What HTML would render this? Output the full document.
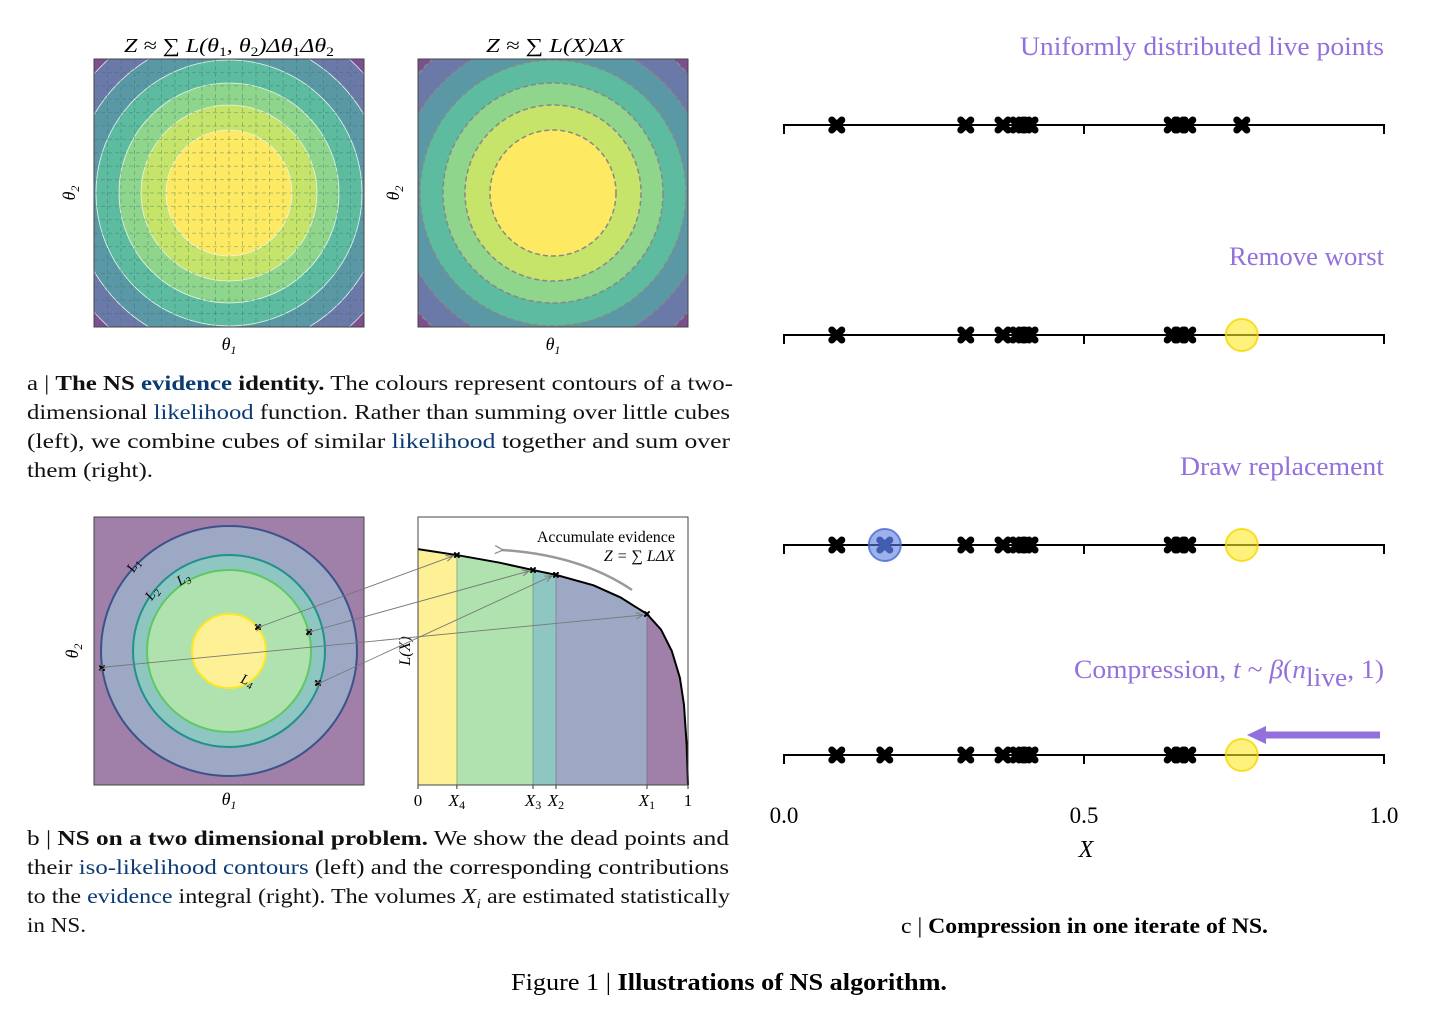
<!DOCTYPE html>
<html><head><meta charset="utf-8"><style>
html,body{margin:0;padding:0;background:#fff;width:1455px;height:1011px;overflow:hidden}
svg{display:block;font-family:"Liberation Serif",serif}
.cap{font-size:21px;fill:#111}
.lk{fill:#0b3b73}
.lab{font-size:26px;fill:#9370db}
</style></head><body>
<svg id="fig" width="1455" height="1011" viewBox="0 0 1455 1011">
<defs>
<clipPath id="c1"><rect x="94" y="59" width="270" height="268"/></clipPath>
<clipPath id="c2"><rect x="418" y="59" width="270" height="268"/></clipPath>
<clipPath id="c3"><rect x="94" y="517" width="270" height="268"/></clipPath>
<marker id="ah" markerWidth="8" markerHeight="8" refX="7" refY="4" orient="auto" markerUnits="userSpaceOnUse"><path d="M0,1 L7,4 L0,7" fill="none" stroke="#777" stroke-width="1"/></marker>
<marker id="ah2" markerWidth="10" markerHeight="10" refX="2" refY="5" orient="auto" markerUnits="userSpaceOnUse"><path d="M9,1 L1,5 L9,9" fill="none" stroke="#888" stroke-width="1.2"/></marker>
</defs>

<text x="229" y="52" font-size="20" text-anchor="middle" font-style="italic" textLength="210" lengthAdjust="spacingAndGlyphs">Z ≈ ∑ L(θ<tspan font-size="13" dy="4" font-style="normal">1</tspan><tspan dy="-4">, θ</tspan><tspan font-size="13" dy="4" font-style="normal">2</tspan><tspan dy="-4">)Δθ</tspan><tspan font-size="13" dy="4" font-style="normal">1</tspan><tspan dy="-4">Δθ</tspan><tspan font-size="13" dy="4" font-style="normal">2</tspan></text>
<text x="555" y="52" font-size="20" text-anchor="middle" font-style="italic" textLength="138" lengthAdjust="spacingAndGlyphs">Z ≈ ∑ L(X)ΔX</text>

<g id="pa1" clip-path="url(#c1)"></g>
<rect x="94" y="59" width="270" height="268" fill="none" stroke="#444" stroke-width="1"/>
<g id="pa2" clip-path="url(#c2)"></g>
<rect x="418" y="59" width="270" height="268" fill="none" stroke="#444" stroke-width="1"/>
<text x="229" y="350" font-size="18" text-anchor="middle" font-style="italic">θ<tspan font-size="12" dy="4">1</tspan></text>
<text x="553" y="350" font-size="18" text-anchor="middle" font-style="italic">θ<tspan font-size="12" dy="4">1</tspan></text>
<text transform="translate(75,193) rotate(-90)" font-size="18" text-anchor="middle" font-style="italic">θ<tspan font-size="12" dy="4">2</tspan></text>
<text transform="translate(399,193) rotate(-90)" font-size="18" text-anchor="middle" font-style="italic">θ<tspan font-size="12" dy="4">2</tspan></text>

<g>
<text class="cap" x="27" y="390" textLength="706" lengthAdjust="spacingAndGlyphs">a | <tspan font-weight="bold">The NS </tspan><tspan font-weight="bold" class="lk">evidence</tspan><tspan font-weight="bold"> identity.</tspan> The colours represent contours of a two-</text>
<text class="cap" x="27" y="419" textLength="703" lengthAdjust="spacingAndGlyphs">dimensional <tspan class="lk">likelihood</tspan> function. Rather than summing over little cubes</text>
<text class="cap" x="27" y="448" textLength="703" lengthAdjust="spacingAndGlyphs">(left), we combine cubes of similar <tspan class="lk">likelihood</tspan> together and sum over</text>
<text class="cap" x="27" y="477" textLength="126" lengthAdjust="spacingAndGlyphs">them (right).</text>
</g>

<rect x="94" y="517" width="270" height="268" fill="#a07fa8"/>
<g clip-path="url(#c3)">
<ellipse cx="229" cy="651" rx="128" ry="125" fill="#9da8c4" stroke="#3b528b" stroke-width="2"/>
<ellipse cx="229" cy="651" rx="96" ry="96" fill="#8ec6c2" stroke="#21918c" stroke-width="2"/>
<ellipse cx="229" cy="651" rx="82" ry="81" fill="#b0e2b0" stroke="#5ec962" stroke-width="2"/>
<ellipse cx="229" cy="651" rx="37" ry="37" fill="#fdf095" stroke="#fde725" stroke-width="2"/>
</g>
<rect x="94" y="517" width="270" height="268" fill="none" stroke="#444"/>
<g font-size="14" font-style="italic">
<text x="128" y="573" transform="rotate(-60 131 568)">L<tspan font-size="10" dy="3">1</tspan></text>
<text x="146" y="600" transform="rotate(-55 150 595)">L<tspan font-size="10" dy="3">2</tspan></text>
<text x="177" y="585" transform="rotate(-30 180 580)">L<tspan font-size="10" dy="3">3</tspan></text>
<text x="241" y="684" transform="rotate(20 245 680)">L<tspan font-size="10" dy="3">4</tspan></text>
</g>
<text x="229" y="805" font-size="18" text-anchor="middle" font-style="italic">θ<tspan font-size="12" dy="4">1</tspan></text>
<text transform="translate(78,651) rotate(-90)" font-size="18" text-anchor="middle" font-style="italic">θ<tspan font-size="12" dy="4">2</tspan></text>

<g id="pb2"></g>
<rect x="418" y="517" width="270" height="268" fill="none" stroke="#444"/>
<text transform="translate(410,651) rotate(-90)" font-size="16" text-anchor="middle" font-style="italic">L(X)</text>
<text x="675" y="542" font-size="16" text-anchor="end">Accumulate evidence</text>
<text x="675" y="561" font-size="16" text-anchor="end" font-style="italic">Z = ∑ LΔX</text>
<path d="M632,590 Q580,555 502,550" fill="none" stroke="#999" stroke-width="2.5" marker-end="url(#ah2)"/>
<g id="arrows"></g>

<g>
<text class="cap" x="27" y="845" textLength="702" lengthAdjust="spacingAndGlyphs">b | <tspan font-weight="bold">NS on a two dimensional problem.</tspan> We show the dead points and</text>
<text class="cap" x="27" y="874" textLength="702" lengthAdjust="spacingAndGlyphs">their <tspan class="lk">iso-likelihood contours</tspan> (left) and the corresponding contributions</text>
<text class="cap" x="27" y="903" textLength="703" lengthAdjust="spacingAndGlyphs">to the <tspan class="lk">evidence</tspan> integral (right). The volumes <tspan font-style="italic">X<tspan font-size="14" dy="5">i</tspan></tspan><tspan dy="-5"> are estimated statistically</tspan></text>
<text class="cap" x="27" y="932" textLength="59" lengthAdjust="spacingAndGlyphs">in NS.</text>
</g>

<g id="pc"></g>
<text class="lab" x="1020" y="55" textLength="364" lengthAdjust="spacingAndGlyphs">Uniformly distributed live points</text>
<text class="lab" x="1229" y="265" textLength="155" lengthAdjust="spacingAndGlyphs">Remove worst</text>
<text class="lab" x="1180" y="475" textLength="204" lengthAdjust="spacingAndGlyphs">Draw replacement</text>
<text class="lab" x="1074" y="678" textLength="310" lengthAdjust="spacingAndGlyphs">Compression, <tspan font-style="italic">t</tspan> ~ <tspan font-style="italic">β</tspan>(<tspan font-style="italic">n</tspan><tspan dy="8">live</tspan><tspan dy="-8">, 1)</tspan></text>
<line x1="1380" y1="735" x2="1262" y2="735" stroke="#9370db" stroke-width="7"/>
<path d="M1247,735 L1266,726 L1266,744 Z" fill="#9370db"/>
<text x="1086" y="857" font-size="24" font-style="italic" text-anchor="middle">X</text>
<text x="901" y="933" font-size="22" textLength="367" lengthAdjust="spacingAndGlyphs">c | <tspan font-weight="bold">Compression in one iterate of NS.</tspan></text>
<text x="511" y="990" font-size="24" textLength="436" lengthAdjust="spacingAndGlyphs">Figure 1 | <tspan font-weight="bold">Illustrations of NS algorithm.</tspan></text>
</svg>
<script>
// ---- data ----
var contourRadii = [205, 180, 156, 133, 110, 88, 63];
var contourColors = ["#7c4f90", "#6b79a8", "#5b98a6", "#5dbba0", "#8fd58c", "#c6e46a", "#fdea62"];
var stepX = [0, 0.144, 0.426, 0.511, 0.848, 1];
var stepColors = ["#fdf095", "#b0e2b0", "#8ec6c2", "#9da8c4", "#a07fa8"];
var curveX = [0, 0.144, 0.3, 0.426, 0.511, 0.65, 0.75, 0.848, 0.9, 0.94, 0.97, 0.985, 0.995, 1];
var curveL = [0.88, 0.858, 0.83, 0.802, 0.784, 0.745, 0.70, 0.638, 0.58, 0.5, 0.4, 0.3, 0.15, 0];
var deadX = [0.144, 0.426, 0.511, 0.848];
var row1 = [0.088, 0.303, 0.365, 0.39, 0.40, 0.41, 0.647, 0.66, 0.673, 0.763];
var row2 = [0.088, 0.303, 0.365, 0.39, 0.40, 0.41, 0.647, 0.66, 0.673];
var row3 = [0.088, 0.168, 0.303, 0.365, 0.39, 0.40, 0.41, 0.647, 0.66, 0.673];
var row4 = [0.088, 0.168, 0.303, 0.365, 0.39, 0.40, 0.41, 0.647, 0.66, 0.673];
var worstX = [0.763];
var newX = [0.168];
var tickVals = [0, 0.5, 1];
var tickLabels = ["0.0", "0.5", "1.0"];

var NS = "http://www.w3.org/2000/svg";
function mk(tag, attrs, parent) { var e = document.createElementNS(NS, tag); for (var k in attrs) e.setAttribute(k, attrs[k]); parent.appendChild(e); return e; }

var pa1 = document.getElementById('pa1'), pa2 = document.getElementById('pa2');
[[pa1, 229], [pa2, 553]].forEach(function (p, j) {
  mk('rect', {x: p[1] - 135, y: 59, width: 270, height: 268, fill: contourColors[0]}, p[0]);
  for (var i = 0; i < contourRadii.length; i++) {
    var e = mk('ellipse', {cx: p[1], cy: 193, rx: contourRadii[i], ry: contourRadii[i], fill: contourColors[i],
      stroke: j ? '#888' : '#e8f4e8', 'stroke-width': j ? 1.5 : 0.8, 'stroke-dasharray': j ? '5,3' : 'none'}, p[0]);
    
    
  }
});
for (var g = 1; g < 20; g++) {
  var xx = 94 + g * 13.5, yy = 59 + g * 13.4;
  mk('line', {x1: xx, y1: 59, x2: xx, y2: 327, stroke: '#2a6a6a', 'stroke-opacity': 0.35, 'stroke-dasharray': '4,3'}, pa1);
  mk('line', {x1: 94, y1: yy, x2: 364, y2: yy, stroke: '#2a6a6a', 'stroke-opacity': 0.35, 'stroke-dasharray': '4,3'}, pa1);
}

var bx0 = 418, bw = 270, by0 = 785, bh = 268;
function bX(v) { return bx0 + v * bw; }
function bY(v) { return by0 - v * bh; }
function Lat(x) { for (var i = 1; i < curveX.length; i++) if (x <= curveX[i]) { var t = (x - curveX[i-1]) / (curveX[i] - curveX[i-1]); return curveL[i-1] + t * (curveL[i] - curveL[i-1]); } return 0; }
var pb2 = document.getElementById('pb2');
for (var s = 0; s < stepColors.length; s++) {
  var d = 'M' + bX(stepX[s]) + ',' + by0 + ' L' + bX(stepX[s]) + ',' + bY(Lat(stepX[s]));
  for (var i = 0; i < curveX.length; i++) if (curveX[i] > stepX[s] && curveX[i] < stepX[s+1]) d += ' L' + bX(curveX[i]) + ',' + bY(curveL[i]);
  d += ' L' + bX(stepX[s+1]) + ',' + bY(Lat(stepX[s+1])) + ' L' + bX(stepX[s+1]) + ',' + by0 + 'Z';
  var r = mk('path', {d: d, fill: stepColors[s]}, pb2);
  
  
  if (s > 0) mk('line', {x1: bX(stepX[s]), y1: by0, x2: bX(stepX[s]), y2: bY(Lat(stepX[s])), stroke: '#555', 'stroke-opacity': 0.4}, pb2);
}
var cd = '';
for (var i = 0; i < curveX.length; i++) cd += (i ? ' L' : 'M') + bX(curveX[i]) + ',' + bY(curveL[i]);
var cl = mk('path', {d: cd, fill: 'none', stroke: '#000', 'stroke-width': 2}, pb2);


function cross(parent, x, y, sz, w, col) {
  var g = mk('g', {}, parent);
  mk('line', {x1: x - sz, y1: y - sz, x2: x + sz, y2: y + sz, stroke: col, 'stroke-width': w, 'stroke-linecap': 'round'}, g);
  mk('line', {x1: x - sz, y1: y + sz, x2: x + sz, y2: y - sz, stroke: col, 'stroke-width': w, 'stroke-linecap': 'round'}, g);
  return g;
}
deadX.forEach(function (x) {
  var c = cross(pb2, bX(x), bY(Lat(x)), 2, 2, '#000');
  
  
});
var bt = [["0", 0], ["X", 0.144, "4"], ["X", 0.426, "3"], ["X", 0.511, "2"], ["X", 0.848, "1"], ["1", 1]];
bt.forEach(function (t) {
  var x = bX(t[1]);
  mk('line', {x1: x, y1: by0, x2: x, y2: by0 + 4, stroke: '#333'}, pb2);
  var tx = mk('text', {x: x, y: 806, 'font-size': 17, 'text-anchor': 'middle', 'font-style': t[2] ? 'italic' : 'normal'}, pb2);
  tx.textContent = t[0];
  if (t[2]) { var ts = mk('tspan', {'font-size': 12, dy: 3, 'font-style': 'normal'}, tx); ts.textContent = t[2]; }
  
  
});
var leftPts = [[258, 627], [309, 632], [318, 683], [102, 668]];
var ar = document.getElementById('arrows');
leftPts.forEach(function (p, i) {
  var c = cross(ar, p[0], p[1], 2, 2, '#000');
  
  
  var x2 = bX(deadX[i]), y2 = bY(Lat(deadX[i]));
  mk('line', {x1: p[0] + 4, y1: p[1] - 1, x2: x2 - 4, y2: y2 + 1, stroke: '#777', 'stroke-width': 0.9, 'marker-end': 'url(#ah)', 'marker-start': 'url(#ah)'}, ar);
});

var cx0 = 784, cw = 600, rowY = [125, 335, 545, 755];
function cX(v) { return cx0 + v * cw; }
var pc = document.getElementById('pc');
rowY.forEach(function (y) {
  var ax = mk('line', {x1: cx0, y1: y, x2: cx0 + cw, y2: y, stroke: '#000', 'stroke-width': 2}, pc);
  
  
  tickVals.forEach(function (v) { mk('line', {x1: cX(v), y1: y - 1, x2: cX(v), y2: y + 9, stroke: '#000', 'stroke-width': 2}, pc); });
});
function circ(x, y, fill, stroke, name) {
  var c = mk('circle', {cx: x, cy: y, r: 16, fill: fill, 'fill-opacity': 0.6, stroke: stroke, 'stroke-opacity': 0.8, 'stroke-width': 2}, pc);
  
  
}
[row1, row2, row3, row4].forEach(function (row, r) {
  row.forEach(function (v) {
    var c = cross(pc, cX(v), rowY[r], 5, 7, (r === 2 && newX.indexOf(v) >= 0) ? '#1d2f6e' : '#000');
    
    
  });
});
newX.forEach(function (v) { circ(cX(v), rowY[2], '#5b7fe0', '#4a6ad0', 'replacement-point'); });
[1, 2, 3].forEach(function (r) { worstX.forEach(function (v) { circ(cX(v), rowY[r], '#fde725', '#f5d800', 'removed-point'); }); });
tickVals.forEach(function (v, i) {
  var t = mk('text', {x: cX(v), y: 823, 'font-size': 23, 'text-anchor': 'middle'}, pc);
  t.textContent = tickLabels[i];
  
  
});
</script>
</body></html>
